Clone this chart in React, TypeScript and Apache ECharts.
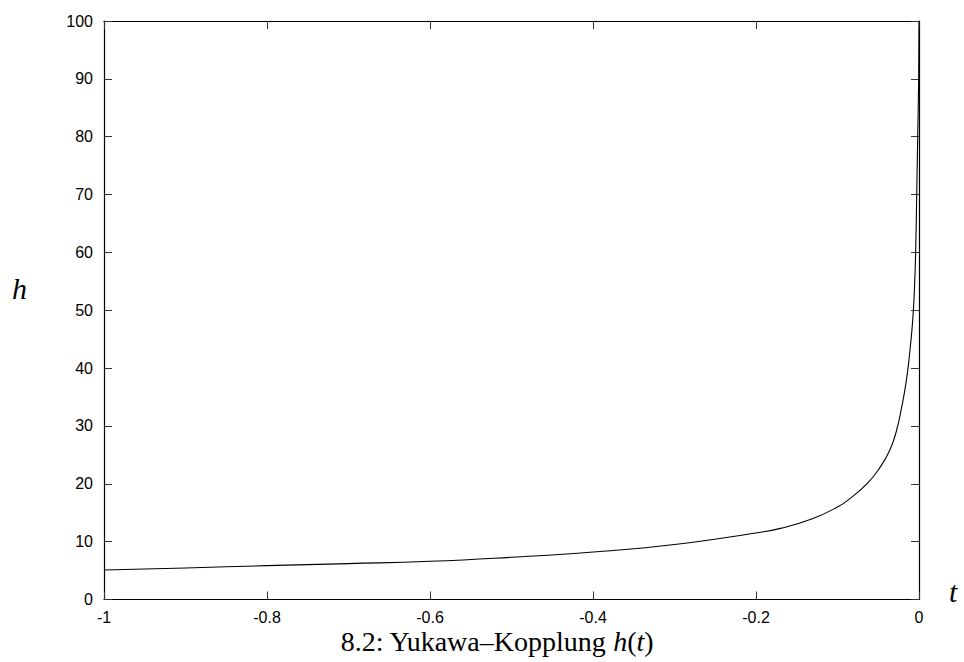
import React, { useEffect, useRef } from "react";
import * as echarts from "echarts";

const tValues = [
  -1.0, -0.9, -0.8, -0.7, -0.6, -0.5, -0.4, -0.3, -0.2, -0.17, -0.13, -0.1,
  -0.0887, -0.064, -0.048, -0.0356, -0.0274, -0.0212, -0.016, -0.0119,
  -0.0077, -0.0055, -0.004, -0.0028, -0.0016, -0.0004, 0,
];
const hValues = [
  5.1, 5.45, 5.85, 6.2, 6.6, 7.3, 8.2, 9.5, 11.5, 12.3, 14.0, 16.0,
  17.0, 20.0, 22.8, 25.9, 29.3, 33.3, 37.4, 42.0,
  48.3, 54, 60.7, 70, 80, 90, 100,
];
const xTicks = [-1, -0.8, -0.6, -0.4, -0.2, 0];
const yTicks = [0, 10, 20, 30, 40, 50, 60, 70, 80, 90, 100];
const caption = "8.2: Yukawa–Kopplung ";
const xName = "t";
const yName = "h";

export default function App() {
  const ref = useRef<HTMLDivElement>(null);
  useEffect(() => {
    if (!ref.current) return;
    const chart = echarts.init(ref.current, null, { renderer: "svg" });
    const tickStyle = { show: true, inside: true, length: 8, lineStyle: { color: "#333", width: 1 } };
    const lineStyle = { color: "#000", width: 1.2 };
    const labelFont = { fontFamily: "Liberation Sans", fontSize: 16, color: "#000" };
    const serif = { fontFamily: "Liberation Serif", fontWeight: "normal", color: "#000", lineHeight: 22 };
    chart.setOption({
      animation: false,
      backgroundColor: "#fff",
      grid: { left: 104, top: 21, right: 45, bottom: 62.5 },
      title: {
        text: "{a|" + caption + "}{i|h}{a|(}{i|t}{a|)}",
        left: 497,
        textAlign: "center",
        top: 630,
        padding: 0,
        textStyle: {
          fontWeight: "normal",
          lineHeight: 22,
          rich: {
            a: { ...serif, fontSize: 28 },
            i: { ...serif, fontStyle: "italic", fontSize: 28 },
          },
        },
      },
      graphic: [
        {
          type: "text",
          left: 12,
          top: 273,
          style: { text: yName, fill: "#000", font: "italic 30px 'Liberation Serif'" },
        },
        {
          type: "text",
          left: 949,
          top: 576,
          style: { text: xName, fill: "#000", font: "italic 30px 'Liberation Serif'" },
        },
      ],
      xAxis: [
        {
          type: "value",
          min: -1,
          max: 0,
          interval: 0.2,
          position: "bottom",
          axisLine: { show: true, onZero: false, lineStyle },
          axisTick: tickStyle,
          splitLine: { show: false },
          axisLabel: {
            ...labelFont,
            margin: 10,
            formatter: (v: number) => {
              const m = xTicks.find((t) => Math.abs(t - v) < 1e-9);
              return m === undefined ? "" : String(m);
            },
          },
        },
        {
          type: "value",
          min: -1,
          max: 0,
          interval: 0.2,
          position: "top",
          axisLine: { show: true, onZero: false, lineStyle },
          axisTick: tickStyle,
          axisLabel: { show: false },
          splitLine: { show: false },
        },
      ],
      yAxis: [
        {
          type: "value",
          min: 0,
          max: 100,
          interval: 10,
          position: "left",
          axisLine: { show: true, onZero: false, lineStyle },
          axisTick: tickStyle,
          splitLine: { show: false },
          axisLabel: {
            ...labelFont,
            margin: 11,
            formatter: (v: number) => (yTicks.includes(v) ? String(v) : ""),
          },
        },
        {
          type: "value",
          min: 0,
          max: 100,
          interval: 10,
          position: "right",
          axisLine: { show: true, onZero: false, lineStyle },
          axisTick: tickStyle,
          axisLabel: { show: false },
          splitLine: { show: false },
        },
      ],
      series: [
        {
          type: "line",
          xAxisIndex: 0,
          yAxisIndex: 0,
          data: tValues.map((t, i) => [t, hValues[i]]),
          showSymbol: false,
          smooth: 0.5,
          lineStyle: { color: "#000", width: 1.1 },
          clip: true,
        },
      ],
    });
    return () => chart.dispose();
  }, []);
  return (
    <div
      ref={ref}
      style={{ position: "fixed", left: 0, top: 0, width: 964, height: 662, background: "#fff" }}
    />
  );
}
